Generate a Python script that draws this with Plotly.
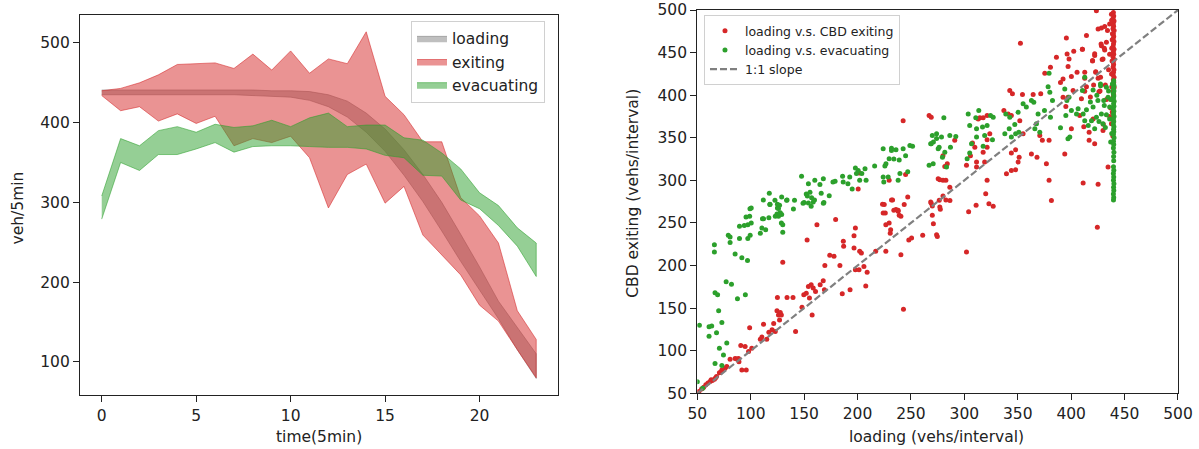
import plotly.graph_objects as go

# ---------------- left panel data ----------------
time_steps = list(range(24))
loading_upper = [441, 441, 441, 441, 441, 441, 441, 441, 441, 440, 440, 439, 435, 427, 412, 392, 366, 335, 300, 260, 219, 176, 143, 110]
loading_lower = [435, 435, 435, 435, 435, 435, 435, 435, 434, 433, 432, 428, 420, 407, 388, 364, 334, 301, 264, 226, 190, 154, 115, 79]
exiting_upper = [440, 443, 450, 460, 473, 474, 475, 468, 486, 466, 490, 462, 480, 474, 514, 433, 410, 376, 376, 306, 283, 249, 164, 128]
exiting_lower = [434, 415, 420, 402, 411, 399, 408, 371, 380, 375, 383, 356, 293, 335, 348, 299, 320, 259, 234, 209, 171, 151, 115, 80]
evac_upper = [308, 380, 371, 390, 395, 388, 398, 394, 396, 403, 395, 406, 412, 395, 397, 397, 381, 378, 362, 342, 312, 296, 268, 249]
evac_lower = [279, 350, 340, 360, 360, 367, 375, 363, 370, 371, 371, 370, 369, 369, 367, 359, 356, 334, 333, 303, 292, 271, 245, 207]

left_xticks = [0, 5, 10, 15, 20]
left_yticks = [100, 200, 300, 400, 500]
right_ticks = [50, 100, 150, 200, 250, 300, 350, 400, 450, 500]

# ---------------- right panel data (loading, exiting) ----------------
red_points = [
    (51.6, 52), (54, 55), (56, 57), (58, 60), (60, 62), (62, 64), (63, 66), (64, 65), (66, 66.5), (67, 68),
    (68, 69.6), (70.7, 74), (72, 75), (73, 77.5), (76, 79.4), (77.6, 81.4), (80.7, 90), (85.4, 91), (87, 90.4),
    (88.6, 91), (89, 87), (91.7, 77.5), (95.8, 77.5), (90.7, 106), (94.8, 105), (98, 99), (101, 103), (99, 127),
    (109, 113.5), (110.5, 116), (112, 131), (115, 113.5), (117, 121.8), (120, 124.5), (121.5, 132), (123, 122.5),
    (124.6, 147), (125, 162.5), (126, 142), (127, 136), (128.7, 142), (127.7, 145), (130, 204), (134, 162.5),
    (142, 122.5), (139.6, 162.5), (148, 151), (149.7, 165.7), (152, 167.6), (152.8, 230), (154, 175.5),
    (155, 162), (156.6, 177.5), (157.5, 142), (158.5, 173.5), (160.7, 169.6), (162, 248), (165, 177.5),
    (167.9, 182), (169, 171.6), (169.4, 200), (174, 212), (178, 210.8), (179.5, 254), (183.5, 200),
    (185.7, 167), (186.7, 228.4), (187, 222.5), (193, 171.6), (196.7, 220.6), (196.7, 235), (198, 244),
    (198, 195), (201.4, 195), (202, 216.7), (203.6, 214.7), (206, 199), (207.7, 176), (209, 192), (217, 216.7),
    (225, 271.6), (226, 261.8), (226.5, 216.7), (226.5, 248), (229.6, 250), (230.6, 238), (231, 242),
    (232.8, 277), (236, 265.7), (238, 263.7), (240.6, 258), (240.6, 212.7), (243.7, 271.6), (243, 148.8),
    (248, 230), (250.6, 232.4), (269, 273), (270, 259), (271, 249), (274, 236), (274.7, 234), (277, 268.75),
    (277.5, 266), (286.5, 276.5), (261, 235.5), (302, 216), (304, 263), (311, 270.7), (323, 272.6),
    (327, 269.5), (381.5, 276.5), (424.5, 245),
    (201.7, 308.6), (200.6, 290), (229.6, 300), (223.4, 272), (224, 261.7), (231.8, 277), (234, 265),
    (238, 265), (239, 259), (242.7, 370), (245, 307), (247, 280.5), (267, 376), (269, 374), (268.5, 274.6),
    (270, 270), (275.5, 302), (276.5, 276.6),
    (352.5, 461), (395.5, 467), (414.3, 470), (425.2, 477.7), (428.3, 479), (431.4, 480.5), (436, 483.6),
    (437.7, 495), (438.6, 472), (386.2, 444.5), (396.2, 448.4), (402.4, 451.5), (410.5, 454), (398, 442.6),
    (422, 446.5), (420, 440.6), (428.3, 458), (431.4, 453), (429.8, 442.6), (380.6, 432.8), (375.3, 425.8),
    (397.1, 433.6), (400.2, 422), (392.4, 419), (390, 415), (405.5, 427), (412.7, 420), (423, 427),
    (425.2, 420), (414.3, 410), (412.7, 404.7), (409.6, 395.7), (401.8, 405.5), (397, 397.7), (342.5, 405.5),
    (345, 401.6), (354.4, 400.8), (364.4, 400.8), (371.5, 401.6), (392.4, 397.7), (395, 386.7), (400.2, 360.5),
    (408, 376), (411.8, 363), (416.8, 356.6), (420.5, 372), (416.8, 347), (422, 343), (429.8, 358.6),
    (437.7, 366.4), (434.5, 315.6), (411.2, 297), (425.2, 295.3), (394, 331), (376.8, 319.5), (379.3, 300),
    (355, 354.7), (362.8, 331), (368, 327), (370.6, 352.7), (373, 347), (379.3, 347), (351.9, 370),
    (337, 382), (341, 378), (344, 376), (348, 336), (351.3, 327), (350.3, 321.5), (344, 332), (348, 312.5),
    (321.3, 376), (314.5, 373.4), (313, 372), (317.6, 373.4), (323.8, 354.7), (321.3, 347.7), (321.3, 339),
    (317.6, 333), (319, 321.5), (311.4, 321.5), (309.8, 339), (307.6, 343.75), (311.4, 315.6), (302, 317.6),
    (305.7, 329), (321.3, 300), (320, 284.4), (280, 329), (281.7, 316.4), (284, 319.5), (277, 300.8),
    (280, 300), (282.7, 300), (286.4, 292), (280, 281.6), (282.7, 277), (291, 347), (339.4, 307.8), (344, 311.7),
    (410.5, 454), (422, 448.6), (420, 440), (428, 460), (431, 455), (429, 442), (412.7, 427), (423, 427.5),
    (427.5, 421), (423.6, 499), (434, 476), (433, 462), (436, 448), (435, 430), (432, 412), (427, 405),
    (433, 395), (437, 385), (436, 375), (430, 366), (439, 352), (426, 404), (418, 398), (421, 412),
    (439.5, 497), (439.8, 493), (439.2, 490), (440.1, 487), (439.4, 484), (439.7, 481), (439.1, 478),
    (440.2, 476), (439.5, 472), (439.8, 469), (439.3, 466), (440.0, 463), (439.6, 460), (439.2, 457),
    (440.1, 454), (439.5, 451), (439.8, 448), (439.1, 445), (440.2, 442), (439.4, 439), (439.7, 436),
    (439.3, 433), (440.0, 430), (439.6, 427), (439.2, 424), (440.1, 421), (439.5, 418), (439.8, 415),
    (439.1, 412), (440.2, 409), (439.4, 405), (439.7, 401), (439.3, 398), (438.5, 380), (438.2, 372),
    (437.5, 395), (438.0, 410), (437.8, 425), (438.3, 440), (438.0, 455), (438.4, 465), (437.9, 488),
]

green_points = [
    (50, 63.7), (52, 130), (55, 56), (61, 128), (63.5, 129), (61, 117), (66, 224.5), (66, 216), (66.6, 168),
    (69, 165.7), (68, 121), (70, 147), (70.7, 103), (73, 133), (74.5, 95), (73, 82.5), (66.6, 85), (77.6, 109),
    (77, 181), (82, 178), (79, 235.5), (80.7, 233.5), (80.7, 227), (85.4, 213.5), (87.6, 161), (89.5, 231.6),
    (89.5, 246), (91.7, 209), (94, 247), (95, 165.7), (97, 206), (97.3, 248), (97.3, 231.6), (99, 258),
    (99.5, 235.5), (100.5, 250), (100.5, 267.6), (109, 238), (110.5, 244), (112, 255), (114, 242), (117, 256),
    (118, 271.6), (123, 258), (124.6, 260.6), (125, 267.6), (126, 258), (127, 270.8), (127.7, 262),
    (128.7, 250), (129, 260), (130, 239), (130, 248), (134, 277), (140, 266.5), (150, 274), (154, 273.5),
    (156.6, 269.6), (159.7, 277), (168.5, 274),
    (95.6, 257), (99.3, 266.8), (111, 255), (111.8, 277), (117.4, 285), (118, 272), (122.7, 276.6), (125, 272),
    (126, 267), (127, 261), (129, 280.5), (133.6, 276.6), (141, 276.6), (147.6, 304.7), (149, 273), (152, 284),
    (153, 281.6), (154, 296), (155.5, 286), (157, 279.7), (158.5, 274.6), (160, 300), (164.8, 295), (166, 285),
    (168, 302), (168, 273), (173.5, 282), (177, 298), (179, 299), (186, 304.7), (186.6, 298), (191, 296),
    (192.7, 304), (195, 290), (198, 314.5), (199, 308), (200.6, 311.7), (202, 300), (204, 308), (207, 313.7),
    (208, 300), (216, 316.8), (224, 337), (224, 304), (224.6, 298), (225.6, 316.8), (226.6, 319.5), (228.7, 304),
    (229.6, 325.4), (231.8, 335), (231.8, 337.8), (234, 325), (236, 336), (239, 324), (238, 300), (239.7, 308),
    (242.7, 337), (245, 329), (247, 310), (249, 341), (251.5, 340), (267, 317.6), (268.5, 343), (270, 352.7),
    (271, 345), (274, 354.7), (275.5, 337),
    (269, 343), (274, 349), (278.6, 350.8), (280.8, 373.4), (276.4, 339), (270.8, 319.5), (281.7, 333),
    (286.4, 352.7), (287, 339), (292, 351.6), (283.3, 315.6), (279.5, 327), (303.6, 378), (305, 364.5),
    (310.7, 373.4), (311.4, 360.5), (313.5, 382), (317, 362.5), (306.7, 343), (305, 332), (302.6, 325.4),
    (311.4, 350.8), (321.3, 364.5), (324.5, 376), (327, 374), (319, 352.7), (326.3, 347.7), (317.6, 340),
    (338.8, 378), (342.5, 374), (342, 360.5), (350.3, 380), (347.2, 365.6), (348, 354.7), (351, 356.6),
    (337.9, 354.7), (344, 350.8), (355, 390), (358, 386), (362.8, 393.75), (365, 391.8), (369, 378),
    (367.5, 366.4), (366, 360.5), (370.6, 356.6), (375, 382), (378.4, 410), (379.3, 425.8), (380, 403.5),
    (382.5, 393.75), (380.6, 374), (390, 361.7), (394, 407.4), (396, 393.75), (395, 376), (398, 397.7),
    (398.7, 350.8), (397, 348.8), (400.2, 382), (405, 378), (406.5, 384), (410.5, 405.5), (411.2, 378),
    (412.7, 370), (414.3, 382.8), (416, 364.5), (419, 370), (420.5, 386), (422, 360.5), (423.6, 374),
    (425, 393.75), (427.4, 413), (428.3, 378), (429.8, 366.4), (430.5, 393.75), (433, 409.4), (434.5, 397.7),
    (436, 386), (438.6, 413), (412.7, 421), (420.5, 406), (427.5, 411), (424, 400), (431, 388), (433, 377),
    (426, 369), (418, 392), (435, 405), (437, 395), (436, 372), (432, 362), (438, 355), (437, 345),
    (439.8, 417), (439.5, 414), (440.1, 411), (439.6, 408), (440.0, 405), (439.4, 402), (439.9, 399),
    (439.5, 396), (440.2, 393), (439.7, 390), (440.0, 387), (439.4, 384), (439.9, 381), (439.6, 378),
    (440.1, 375), (439.5, 372), (439.8, 369), (439.4, 366), (440.0, 363), (439.7, 360), (439.9, 357),
    (439.5, 354), (440.1, 350), (439.6, 346), (439.8, 342), (439.5, 338), (440.0, 333), (439.7, 328),
    (439.8, 323), (439.6, 316), (439.9, 312), (439.5, 308), (439.8, 304), (439.6, 300), (440.0, 296),
    (439.7, 292), (439.9, 288), (439.5, 284), (439.8, 280), (439.6, 277),
]

one_to_one = [50, 500]

RED = "#d62728"
GREEN = "#2ca02c"
FONT = "DejaVu Sans"

fig = go.Figure()

def band(name, upper, lower, fill, line):
    fig.add_trace(go.Scatter(
        x=time_steps + time_steps[::-1],
        y=upper + lower[::-1],
        fill="toself", fillcolor=fill, mode="lines",
        line=dict(color=line, width=1), name=name,
        xaxis="x", yaxis="y", legend="legend", hoverinfo="skip",
    ))

band("loading", loading_upper, loading_lower, "rgba(128,128,128,0.5)", "rgba(128,128,128,0.55)")
band("exiting", exiting_upper, exiting_lower, "rgba(214,39,40,0.5)", "rgba(214,39,40,0.55)")
band("evacuating", evac_upper, evac_lower, "rgba(44,160,44,0.5)", "rgba(44,160,44,0.55)")

fig.add_trace(go.Scatter(
    x=[p[0] for p in red_points], y=[p[1] for p in red_points], mode="markers",
    marker=dict(color=RED, size=5, line=dict(width=0)), name="loading v.s. CBD exiting",
    xaxis="x2", yaxis="y2", legend="legend2",
))
fig.add_trace(go.Scatter(
    x=[p[0] for p in green_points], y=[p[1] for p in green_points], mode="markers",
    marker=dict(color=GREEN, size=5, line=dict(width=0)), name="loading v.s. evacuating",
    xaxis="x2", yaxis="y2", legend="legend2",
))
fig.add_trace(go.Scatter(
    x=one_to_one, y=one_to_one, mode="lines",
    line=dict(color="#808080", width=2.2, dash="7px,3px"), name="1:1 slope",
    xaxis="x2", yaxis="y2", legend="legend2",
))

axis_common = dict(
    showline=True, linecolor="#222", linewidth=1.2, mirror=True, ticks="outside",
    ticklen=6, tickwidth=1.2, tickcolor="#222", showgrid=False, zeroline=False,
    automargin=False,
    tickfont=dict(family=FONT, size=15.5, color="#222"),
)

fig.update_layout(
    width=1199, height=449,
    margin=dict(l=80, r=20.7, t=9.5, b=54, autoexpand=False),
    paper_bgcolor="white", plot_bgcolor="white",
    font=dict(family=FONT, color="#222"),
    xaxis=dict(domain=[0, 0.4353], range=[-1.15, 24.15], tickvals=left_xticks, anchor="y", **axis_common),
    yaxis=dict(domain=[0, 0.9883], range=[58.3, 535.7], tickvals=left_yticks, anchor="x", **axis_common),
    xaxis2=dict(domain=[0.5622, 1.0], range=[50, 500], tickvals=right_ticks, anchor="y2", **axis_common),
    yaxis2=dict(domain=[0.0044, 1.0], range=[50, 500], tickvals=right_ticks, anchor="x2", **axis_common),
    legend=dict(
        x=0.4235, y=0.972, xanchor="right", yanchor="top",
        bgcolor="rgba(255,255,255,0.8)", bordercolor="#d0d0d0", borderwidth=1,
        font=dict(family=FONT, size=15.5, color="#222"), tracegroupgap=0,
    ),
    legend2=dict(
        x=0.5683, y=0.987, xanchor="left", yanchor="top",
        bgcolor="rgba(255,255,255,0.8)", bordercolor="#d0d0d0", borderwidth=1,
        font=dict(family=FONT, size=12.5, color="#222"), tracegroupgap=0,
    ),
    showlegend=True,
)

title_font = dict(family=FONT, size=15.5, color="#222")
fig.add_annotation(text="time(5min)", xref="paper", yref="paper", x=0.2177, y=-0.109,
                   xanchor="center", yanchor="middle", showarrow=False, font=title_font)
fig.add_annotation(text="veh/5min", xref="paper", yref="paper", x=-0.0565, y=0.487, textangle=-90,
                   xanchor="center", yanchor="middle", showarrow=False, font=title_font)
fig.add_annotation(text="loading (vehs/interval)", xref="paper", yref="paper", x=0.7805, y=-0.109,
                   xanchor="center", yanchor="middle", showarrow=False, font=title_font)
fig.add_annotation(text="CBD exiting (vehs/interval)", xref="paper", yref="paper", x=0.5036, y=0.525,
                   textangle=-90, xanchor="center", yanchor="middle", showarrow=False, font=title_font)

# remove the browser's default 8px body margin so the figure sits at the page origin
fig.write_html("out.html", config={"displayModeBar": False},
               post_script="document.body.style.margin='0';")
